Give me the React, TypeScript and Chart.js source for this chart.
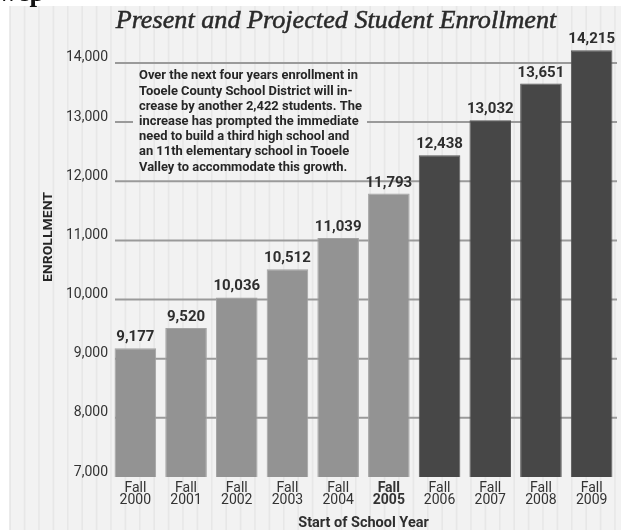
import { useEffect, useRef } from "react";
import { Chart, registerables } from "chart.js";

Chart.register(...registerables);

// ---- data ----
const categories: string[][] = [
  ["Fall", "2000"],
  ["Fall", "2001"],
  ["Fall", "2002"],
  ["Fall", "2003"],
  ["Fall", "2004"],
  ["Fall", "2005"],
  ["Fall", "2006"],
  ["Fall", "2007"],
  ["Fall", "2008"],
  ["Fall", "2009"],
];
const enrollment: number[] = [9177, 9520, 10036, 10512, 11039, 11793, 12438, 13032, 13651, 14215];
const projectedStartIndex = 6;
const currentYearIndex = 5;
const yTickValues: number[] = [7000, 8000, 9000, 10000, 11000, 12000, 13000, 14000];
const noteLines: string[] = [
  "Over the next four years enrollment in",
  "Tooele County School District will in-",
  "crease by another 2,422 students. The",
  "increase has prompted the immediate",
  "need to build a third high school and",
  "an 11th elementary school in Tooele",
  "Valley to accommodate this growth.",
];
const titleText = "Present and Projected Student Enrollment";
const yTitleText = "ENROLLMENT";
const xTitleText = "Start of School Year";
const headerFragment = "wep";

const W = 621;
const H = 531;
const fmt = (v: number) => v.toLocaleString("en-US");

const NOTE = { x: 139, baseline: 79.3, lineH: 15.2, width: 219, padL: 6, padR: 9 };

const decorPlugin = {
  id: "decor",
  beforeDraw(chart: any) {
    const ctx: CanvasRenderingContext2D = chart.ctx;
    ctx.save();
    ctx.fillStyle = "#ffffff";
    ctx.fillRect(0, 0, W, H);
    ctx.fillStyle = "#f2f2f2";
    ctx.fillRect(9, 6, W - 9, 524);
    ctx.strokeStyle = "#e7e7e7";
    ctx.lineWidth = 1.6;
    for (let x = 10.2; x < W; x += 14.4) {
      ctx.beginPath();
      ctx.moveTo(x, 6);
      ctx.lineTo(x, 530);
      ctx.stroke();
    }
    // cut-off header fragment
    ctx.fillStyle = "#111";
    ctx.font = 'bold 27px "Liberation Serif"';
    ctx.textAlign = "left";
    ctx.textBaseline = "alphabetic";
    ctx.fillText(headerFragment, -2, 1);
    // title
    ctx.fillStyle = "#2a2a2a";
    ctx.strokeStyle = "#2a2a2a";
    ctx.lineWidth = 0.5;
    let size = 20;
    ctx.font = `italic ${size}px "Liberation Serif"`;
    const w0 = ctx.measureText(titleText).width;
    size = (size * 441) / w0;
    ctx.font = `italic ${size}px "Liberation Serif"`;
    ctx.textAlign = "center";
    ctx.fillText(titleText, 336, 28);
    ctx.strokeText(titleText, 336, 28);
    ctx.restore();
  },
  beforeDatasetsDraw(chart: any) {
    const ctx: CanvasRenderingContext2D = chart.ctx;
    const ys = chart.scales.y;
    const right = chart.chartArea.right;
    const left = 115;
    const boxTop = NOTE.baseline - 12;
    const boxBottom = NOTE.baseline + NOTE.lineH * (noteLines.length - 1) + 5;
    const gapL = NOTE.x - NOTE.padL;
    const gapR = NOTE.x + NOTE.width + NOTE.padR;
    ctx.save();
    ctx.strokeStyle = "#9a9a9a";
    ctx.lineWidth = 2;
    yTickValues.forEach((v, i) => {
      if (i === 0) return;
      const py = ys.getPixelForValue(v);
      ctx.beginPath();
      if (py > boxTop && py < boxBottom) {
        ctx.moveTo(left, py);
        ctx.lineTo(gapL, py);
        ctx.moveTo(gapR, py);
        ctx.lineTo(right, py);
      } else {
        ctx.moveTo(left, py);
        ctx.lineTo(right, py);
      }
      ctx.stroke();
    });
    ctx.restore();
  },
  afterDatasetsDraw(chart: any) {
    const ctx: CanvasRenderingContext2D = chart.ctx;
    ctx.save();
    // value labels
    const meta = chart.getDatasetMeta(0);
    ctx.fillStyle = "#2e2e2e";
    ctx.font = 'bold 15px "Roboto"';
    ctx.textAlign = "center";
    ctx.textBaseline = "alphabetic";
    meta.data.forEach((bar: any, i: number) => {
      ctx.fillText(fmt(enrollment[i]), bar.x, bar.y - 7);
    });
    // note
    ctx.font = 'bold 12.5px "Roboto"';
    ctx.textAlign = "left";
    const sx = NOTE.width / ctx.measureText(noteLines[0]).width;
    ctx.fillStyle = "#262626";
    noteLines.forEach((line, i) => {
      ctx.save();
      ctx.translate(NOTE.x, NOTE.baseline + i * NOTE.lineH);
      ctx.scale(sx, 1);
      ctx.fillText(line, 0, 0);
      ctx.restore();
    });
    // y title
    ctx.font = 'bold 13px "Roboto"';
    const yw = ctx.measureText(yTitleText).width;
    ctx.translate(49, 237);
    ctx.rotate(-Math.PI / 2);
    ctx.scale(90 / yw, 1);
    ctx.textAlign = "center";
    ctx.textBaseline = "middle";
    ctx.fillText(yTitleText, 0, 0);
    ctx.restore();
  },
};

export default function App() {
  const ref = useRef<HTMLCanvasElement | null>(null);
  useEffect(() => {
    if (!ref.current) return;
    const chart = new Chart(ref.current, {
      type: "bar",
      data: {
        labels: categories,
        datasets: [
          {
            data: enrollment,
            backgroundColor: enrollment.map((_, i) => (i >= projectedStartIndex ? "#474747" : "#939393")),
            borderColor: enrollment.map((_, i) => (i >= projectedStartIndex ? "#555555" : "#a3a3a3")),
            borderWidth: 1,
            barPercentage: 0.82,
            categoryPercentage: 1,
          },
        ],
      },
      options: {
        animation: false,
        responsive: false,
        devicePixelRatio: 1,
        layout: { padding: { top: 33.4, right: 4, bottom: 0, left: 0 } },
        plugins: { legend: { display: false }, title: { display: false }, tooltip: { enabled: false } },
        scales: {
          x: {
            grid: { display: false, drawTicks: false },
            border: { display: false },
            ticks: {
              autoSkip: false,
              maxRotation: 0,
              padding: 5,
              color: "#333",
              font: (c: any) => ({
                family: "Roboto",
                size: 14,
                lineHeight: 0.86,
                weight: c.index === currentYearIndex ? "bold" : "normal",
              }),
            },
            title: {
              display: true,
              text: xTitleText,
              color: "#2e2e2e",
              font: { family: "Roboto", size: 14.5, weight: "bold", lineHeight: 1.1 },
              padding: { top: 0, bottom: 0 },
            },
            afterFit: (s: any) => {
              s.height = 54;
            },
          },
          y: {
            min: 7000,
            max: 14500,
            grid: { display: false, drawTicks: false },
            border: { display: false },
            ticks: {
              autoSkip: false,
              stepSize: 1000,
              padding: 2,
              labelOffset: -5,
              color: "#333",
              font: { family: "Roboto", size: 14 },
              callback: (v: any) => fmt(Number(v)),
            },
            afterBuildTicks: (s: any) => {
              s.ticks = yTickValues.map((v) => ({ value: v }));
            },
            afterFit: (s: any) => {
              s.width = 110;
            },
          },
        },
      },
      plugins: [decorPlugin],
    });
    return () => chart.destroy();
  }, []);
  return (
    <div style={{ position: "absolute", left: 0, top: 0, width: W, height: H }}>
      <canvas ref={ref} width={W} height={H} style={{ display: "block" }} />
    </div>
  );
}
